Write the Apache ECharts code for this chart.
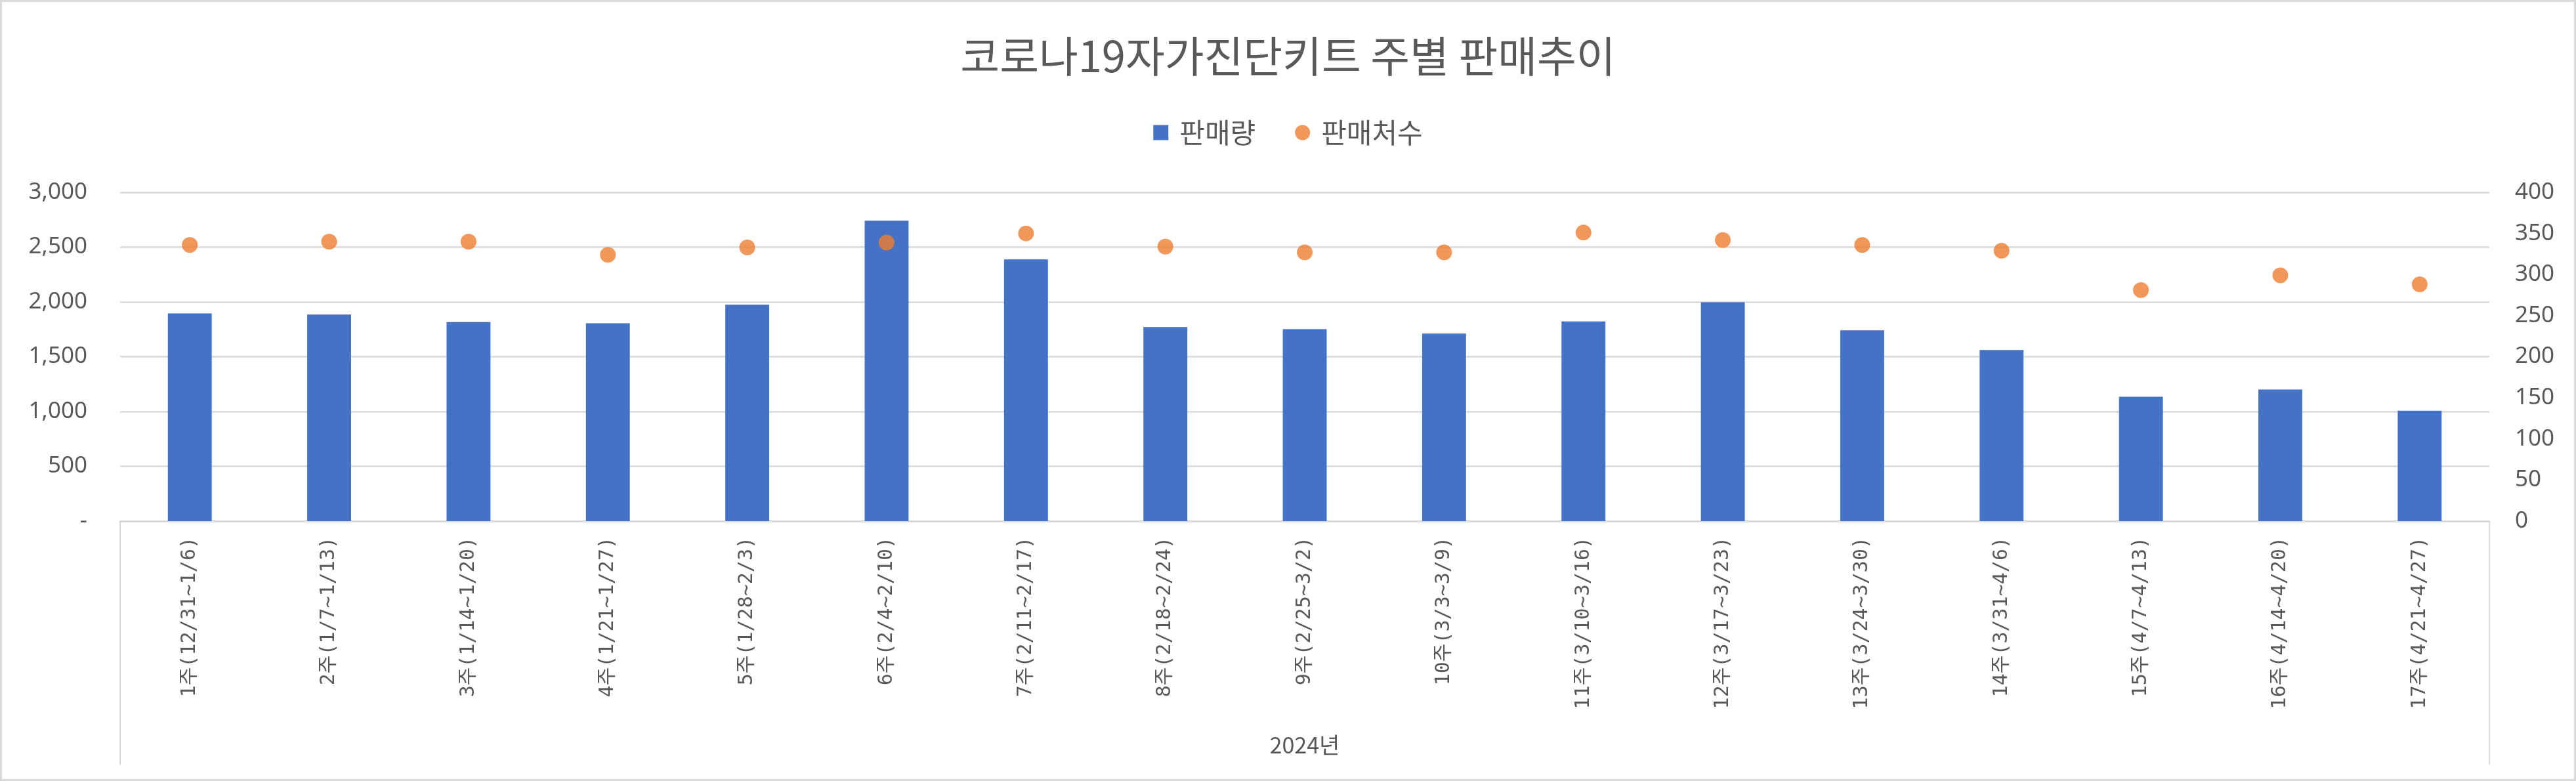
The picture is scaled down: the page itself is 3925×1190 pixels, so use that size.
<!DOCTYPE html>
<html>
<head>
<meta charset="utf-8">
<script src="https://cdn.jsdelivr.net/npm/echarts@6/dist/echarts.min.js"></script>
<style>
html,body{margin:0;padding:0;background:#fff;}
#c{width:3925px;height:1190px;}
</style>
</head>
<body>
<div id="c"></div>
<script>
const titleText = '코로나19자가진단키트 주별 판매추이';
const categories = ['1주(12/31~1/6)', '2주(1/7~1/13)', '3주(1/14~1/20)', '4주(1/21~1/27)', '5주(1/28~2/3)', '6주(2/4~2/10)', '7주(2/11~2/17)', '8주(2/18~2/24)', '9주(2/25~3/2)', '10주(3/3~3/9)', '11주(3/10~3/16)', '12주(3/17~3/23)', '13주(3/24~3/30)', '14주(3/31~4/6)', '15주(4/7~4/13)', '16주(4/14~4/20)', '17주(4/21~4/27)'];
const groupLabels = ['2024년'];
const salesName = '판매량';
const storesName = '판매처수';
const salesValues = [1895, 1885, 1816, 1805, 1975, 2741, 2387, 1771, 1751, 1711, 1822, 1997, 1741, 1561, 1134, 1201, 1007];
const storesValues = [336, 340, 340, 324, 333, 339, 350, 334, 327, 327, 351, 342, 336, 329, 281, 299, 288];

const textColor = '#595959';
const gridColor = '#d9d9d9';
const krFont = '"Noto Sans CJK KR", "Noto Sans", sans-serif';
const numFont = '"Noto Sans", "Noto Sans CJK KR", sans-serif';

const chart = echarts.init(document.getElementById('c'), null, {renderer: 'canvas'});
chart.setOption({
  animation: false,
  backgroundColor: '#ffffff',
  title: {
    text: titleText,
    left: 'center',
    top: 48,
    textStyle: {fontFamily: krFont, fontSize: 65, fontWeight: 'normal', color: textColor}
  },
  legend: {
    top: 176,
    left: 'center',
    itemWidth: 23,
    itemHeight: 23,
    itemGap: 60,
    data: [{name: salesName, icon: 'rect'}, {name: storesName, icon: 'circle'}],
    textStyle: {fontFamily: krFont, fontSize: 42, color: textColor, padding: [0, 0, 0, 12]}
  },
  graphic: [{
    type: 'rect',
    shape: {x: 1.5, y: 1.5, width: 3922, height: 1187},
    style: {fill: 'none', stroke: gridColor, lineWidth: 3},
    silent: true,
    z: 100
  }],
  grid: {left: 183, right: 132, top: 293, bottom: 396, containLabel: false},
  xAxis: [{
    type: 'category',
    data: categories,
    axisLine: {show: true, lineStyle: {color: gridColor, width: 3}},
    axisTick: {show: false},
    axisLabel: {
      interval: 0,
      rotate: 90,
      margin: 24,
      fontFamily: '"DejaVu Sans Mono", "Noto Sans CJK KR", monospace',
      fontSize: 30,
      color: textColor
    }
  }, {
    type: 'category',
    data: groupLabels,
    position: 'bottom',
    axisLine: {show: false},
    axisTick: {show: true, length: 371, lineStyle: {color: gridColor, width: 2}},
    axisLabel: {
      margin: 324,
      fontFamily: krFont,
      fontSize: 34,
      color: textColor
    }
  }],
  yAxis: [{
    type: 'value',
    min: 0,
    max: 3000,
    interval: 500,
    axisLine: {show: false},
    axisTick: {show: false},
    splitLine: {show: true, lineStyle: {color: gridColor, width: 2.5}},
    axisLabel: {
      margin: 50,
      fontFamily: numFont,
      fontSize: 35,
      color: textColor,
      formatter: function (v) { return v === 0 ? '-' : v.toLocaleString('en-US'); }
    }
  }, {
    type: 'value',
    min: 0,
    max: 400,
    interval: 50,
    position: 'right',
    axisLine: {show: false},
    axisTick: {show: false},
    splitLine: {show: false},
    axisLabel: {
      margin: 39,
      fontFamily: numFont,
      fontSize: 35,
      color: textColor
    }
  }],
  series: [{
    name: salesName,
    type: 'bar',
    data: salesValues,
    xAxisIndex: 0,
    yAxisIndex: 0,
    barWidth: '31.5%',
    itemStyle: {color: '#4472C4'}
  }, {
    name: storesName,
    type: 'scatter',
    data: storesValues,
    xAxisIndex: 0,
    yAxisIndex: 1,
    symbol: 'circle',
    symbolSize: 24,
    itemStyle: {color: '#ED7D31'},
    z: 5
  }]
});
</script>
</body>
</html>
